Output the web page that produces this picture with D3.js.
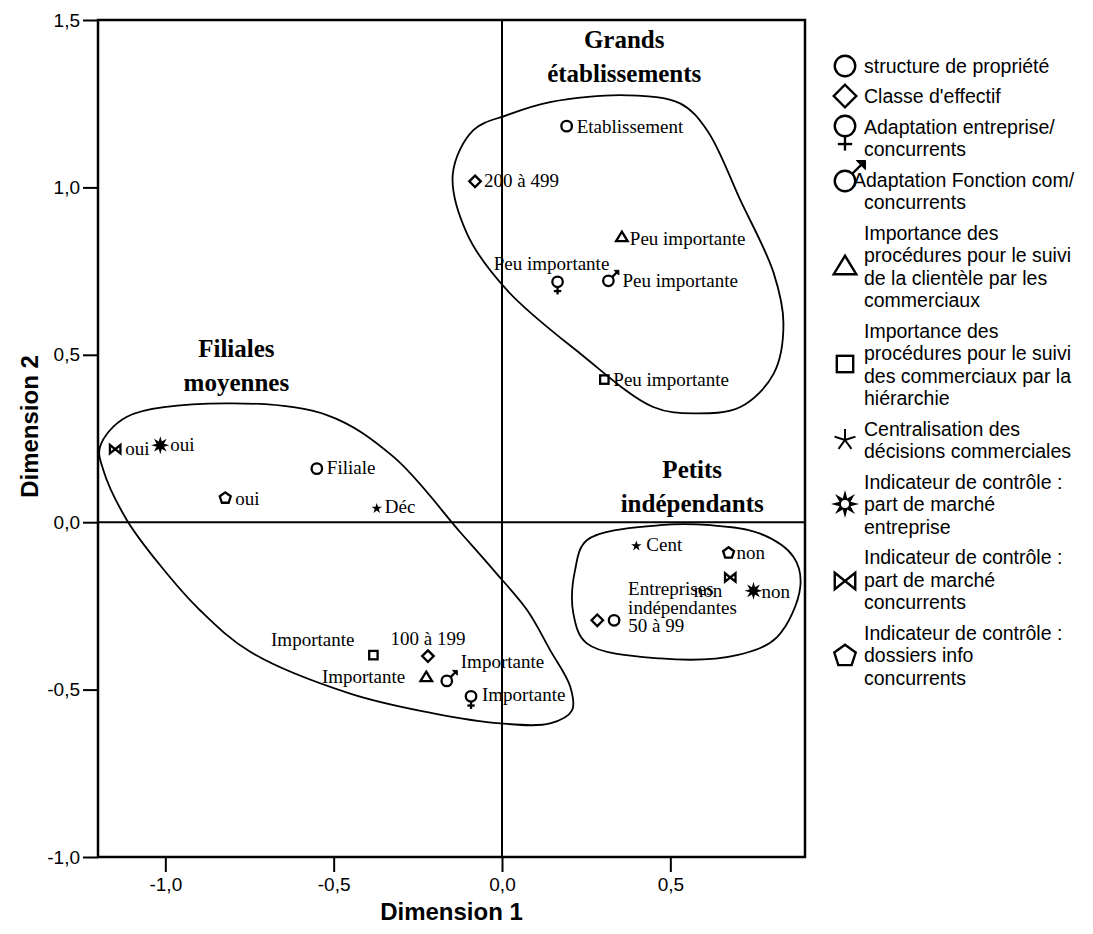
<!DOCTYPE html>
<html><head><meta charset="utf-8">
<script src="https://cdn.jsdelivr.net/npm/d3@7"></script>
<style>body{margin:0;background:#fff}svg{display:block}</style>
</head><body><svg id="c" width="1093" height="934"></svg>
<script>
// ---------- DATA ----------
const xTicks = [-1.0, -0.5, 0.0, 0.5];
const yTicks = [-1.0, -0.5, 0.0, 0.5, 1.0, 1.5];
const axisTitles = ["Dimension 1", "Dimension 2"];

const legendTypes = ["circle","diamond","female","male","triangle","square","asterisk","burst","bowtie","pentagon"];
const legendLabels = [
  ["structure de propriété"],
  ["Classe d'effectif"],
  ["Adaptation entreprise/","concurrents"],
  ["Adaptation Fonction com/","concurrents"],
  ["Importance des","procédures pour le suivi","de la clientèle par les","commerciaux"],
  ["Importance des","procédures pour le suivi","des commerciaux par la","hiérarchie"],
  ["Centralisation des","décisions commerciales"],
  ["Indicateur de contrôle :","part de marché","entreprise"],
  ["Indicateur de contrôle :","part de marché","concurrents"],
  ["Indicateur de contrôle :","dossiers info","concurrents"]
];

const pointTypes  = ["circle","circle","circle","diamond","diamond","diamond","female","female","male","male","triangle","triangle","square","square","star","star","burst","burst","bowtie","bowtie","pentagon","pentagon"];
const pointX      = [0.192,-0.550,0.333,-0.080,-0.220,0.283,0.165,-0.092,0.316,-0.164,0.356,-0.225,0.304,-0.382,-0.372,0.399,-1.015,0.747,-1.149,0.678,-0.822,0.673];
const pointY      = [1.183,0.160,-0.293,1.018,-0.400,-0.293,0.718,-0.520,0.721,-0.474,0.852,-0.462,0.426,-0.397,0.041,-0.071,0.230,-0.205,0.218,-0.165,0.072,-0.092];
const pointLabels = ["Etablissement","Filiale","Entreprises\nindépendantes","200 à 499","100 à 199","50 à 99","Peu importante","Importante","Peu importante","Importante","Peu importante","Importante","Peu importante","Importante","Déc","Cent","oui","non","oui","non","oui","non"];

const groupTitles = [["Grands","établissements"],["Filiales","moyennes"],["Petits","indépendants"]];

// cluster outlines (data coordinates)
const hullGrands = [[-0.146,1.041],[-0.085,1.171],[0.015,1.216],[0.143,1.255],[0.371,1.275],[0.529,1.251],[0.609,1.171],[0.708,0.962],[0.807,0.744],[0.836,0.593],[0.807,0.444],[0.708,0.344],[0.569,0.325],[0.449,0.344],[0.232,0.504],[0.015,0.693],[-0.104,0.862]];
const hullFiliales = [[-1.194,0.225],[-1.114,0.315],[-0.817,0.355],[-0.520,0.320],[-0.322,0.195],[-0.124,-0.030],[-0.020,-0.149],[0.075,-0.263],[0.143,-0.382],[0.203,-0.492],[0.208,-0.562],[0.143,-0.601],[-0.005,-0.601],[-0.204,-0.571],[-0.451,-0.512],[-0.748,-0.387],[-0.897,-0.263],[-1.016,-0.128],[-1.114,0.006],[-1.184,0.155]];
const hullPetits = [[0.470,-0.009],[0.619,-0.009],[0.767,-0.034],[0.866,-0.104],[0.886,-0.193],[0.817,-0.343],[0.698,-0.397],[0.470,-0.407],[0.252,-0.362],[0.212,-0.273],[0.217,-0.143],[0.252,-0.054]];

// ---------- LAYOUT (positions / offsets, not data) ----------
const labelOffsets = [ // dx, dy (px), anchor
  [10,7,"start"],[10,5,"start"],[14,-25,"start"],[9,6,"start"],[0,-11,"middle"],[31,12,"start"],
  [-6,-12,"middle"],[11,5,"start"],[14,6,"start"],[14,-13,"start"],[8,8,"start"],[-21,6,"end"],
  [9,6,"start"],[-19,-9,"end"],[8,5,"start"],[10,5,"start"],[10,6,"start"],[8,7,"start"],
  [10,6,"start"],[-8,20,"end"],[10,7,"start"],[8,6,"start"]
];
const titleAnchors = [[0.363,1.416],[-0.789,0.493],[0.565,0.131]];
const legendSymbolY = [66,96,126,181,266,364,440,504,581,656];
const legendFirstLineY = [66,96.5,127,180,233,331,429,482,557.5,633];

// ---------- CHART ----------
const svg = d3.select("#c");
const L = 98, R = 805, T = 20, B = 857;
const x = d3.scaleLinear().domain([-1.2, 0.9]).range([L, R]);
const y = d3.scaleLinear().domain([-1.0, 1.5]).range([B, T]);
const fmt = d => d.toFixed(1).replace(".", ",").replace("-0,0","0,0");
const sans = "'Liberation Sans', Arial, Helvetica, sans-serif";
const serif = "'Liberation Serif', 'Times New Roman', serif";

// zero lines
svg.append("line").attr("x1", x(0)).attr("x2", x(0)).attr("y1", T).attr("y2", B).attr("stroke","#000").attr("stroke-width",2);
svg.append("line").attr("x1", L).attr("x2", R).attr("y1", y(0)).attr("y2", y(0)).attr("stroke","#000").attr("stroke-width",2);

// axes
const ya = svg.append("g").attr("transform",`translate(${L},0)`)
  .call(d3.axisLeft(y).tickValues(yTicks).tickSize(15).tickPadding(3).tickFormat(fmt));
const xa = svg.append("g").attr("transform",`translate(0,${B})`)
  .call(d3.axisBottom(x).tickValues(xTicks).tickSize(15).tickPadding(6).tickFormat(fmt));
[ya, xa].forEach(a => {
  a.select(".domain").remove();
  a.selectAll(".tick line").attr("stroke","#000").attr("stroke-width",2);
  a.selectAll(".tick text").attr("fill","#000").style("font-family", sans).style("font-size","19px");
});

// frame
svg.append("rect").attr("x",L).attr("y",T).attr("width",R-L).attr("height",B-T)
  .attr("fill","none").attr("stroke","#000").attr("stroke-width",2.5);

// axis titles
svg.append("text").attr("x",(L+R)/2).attr("y",920).attr("text-anchor","middle")
  .style("font-family",sans).style("font-weight","bold").style("font-size","24px").text(axisTitles[0]);
svg.append("text").attr("transform",`translate(38,${(T+B)/2 - 12}) rotate(-90)`).attr("text-anchor","middle")
  .style("font-family",sans).style("font-weight","bold").style("font-size","24px").text(axisTitles[1]);

// hulls
const hullLine = d3.line().x(d => x(d[0])).y(d => y(d[1])).curve(d3.curveCatmullRomClosed.alpha(0.5));
[hullGrands, hullFiliales, hullPetits].forEach(h => {
  svg.append("path").attr("d", hullLine(h)).attr("fill","none").attr("stroke","#000").attr("stroke-width",1.8);
});

// group titles
groupTitles.forEach((t,i) => {
  const tx = x(titleAnchors[i][0]), ty = y(titleAnchors[i][1]);
  const te = svg.append("text").attr("text-anchor","middle")
    .style("font-family",serif).style("font-weight","bold").style("font-size","25px");
  t.forEach((line,j) => te.append("tspan").attr("x",tx).attr("y",ty + j*34).text(line));
});

// symbols
function drawSymbol(g, type, s, legend) {
  const sw = legend ? 2.4 : 2.3;
  const st = {fill:"none", stroke:"#000", "stroke-width":sw};
  const app = (tag, attrs) => { const e = g.append(tag); Object.entries(attrs).forEach(([k,v]) => e.attr(k,v)); return e; };
  const poly = pts => "M" + pts.map(p => p.join(",")).join("L") + "Z";
  switch(type) {
    case "circle": app("circle",{r:5*s, ...st}); break;
    case "diamond": app("path",{d:poly([[0,-5.5*s],[5.5*s,0],[0,5.5*s],[-5.5*s,0]]), ...st}); break;
    case "square": app("rect",{x:-4*s,y:-4*s,width:8*s,height:8*s, ...st}); break;
    case "triangle": app("path",{d:poly([[0,-5*s],[5.5*s,4*s],[-5.5*s,4*s]]), ...st}); break;
    case "pentagon": {
      const pts = d3.range(5).map(k => { const a = (-90 + 72*k)*Math.PI/180; return [5.5*s*Math.cos(a), 5.5*s*Math.sin(a)]; });
      app("path",{d:poly(pts), ...st}); break; }
    case "female":
      app("circle",{r:5*s, ...st});
      app("line",{x1:0,y1:5*s,x2:0,y2:12*s, ...st});
      app("line",{x1:-3.5*s,y1:8.8*s,x2:3.5*s,y2:8.8*s, ...st});
      break;
    case "male": {
      app("circle",{r:5*s, ...st});
      const c = 5*s*Math.SQRT1_2, tip = 10*s;
      app("line",{x1:c,y1:-c,x2:tip-1.5*s,y2:-tip+1.5*s, ...st});
      app("path",{d:poly([[tip,-tip],[tip-4.5*s,-tip],[tip,-tip+4.5*s]]), fill:"#000", stroke:"#000", "stroke-width":1});
      break; }
    case "star":
      app("path",{d:d3.symbol(d3.symbolStar, 34)(), fill:"#000"});
      break;
    case "asterisk":
      d3.range(5).forEach(k => { const a = (-90 + 72*k)*Math.PI/180;
        app("line",{x1:0,y1:0,x2:11*Math.cos(a),y2:11*Math.sin(a),stroke:"#000","stroke-width":2}); });
      break;
    case "burst": {
      const ro = legend ? 14 : 9, ri = legend ? 6 : 4;
      const pts = d3.range(16).map(k => { const a = (-90 + 22.5*k)*Math.PI/180; const r = k%2 ? ri : ro; return [r*Math.cos(a), r*Math.sin(a)]; });
      app("path",{d:poly(pts), fill:"#000"});
      if (legend) app("circle",{r:4, fill:"#fff"});
      break; }
    case "bowtie":
      app("path",{d:poly([[-5*s,-4*s],[5*s,4*s],[5*s,-4*s],[-5*s,4*s]]), fill:"none", stroke:"#000", "stroke-width":sw, "stroke-linejoin":"miter"});
      break;
  }
}

// points
pointTypes.forEach((t,i) => {
  const px = x(pointX[i]), py = y(pointY[i]);
  const g = svg.append("g").attr("transform",`translate(${px},${py})`);
  drawSymbol(g, t, 1.05, false);
  const [dx, dy, anchor] = labelOffsets[i];
  const te = svg.append("text").attr("text-anchor",anchor)
    .style("font-family",serif).style("font-size","19px").attr("fill","#000");
  pointLabels[i].split("\n").forEach((line,j) =>
    te.append("tspan").attr("x",px+dx).attr("y",py+dy+j*18.5).text(line));
});

// legend
const LH = 22.5;
legendTypes.forEach((t,i) => {
  const g = svg.append("g").attr("transform",`translate(845,${legendSymbolY[i]})`);
  drawSymbol(g, t, 2.05, true);
  const te = svg.append("text").style("font-family",sans).style("font-size","19.5px").attr("fill","#000");
  legendLabels[i].forEach((line,j) =>
    te.append("tspan").attr("x", (i===3 && j===0) ? 853 : 864).attr("y", legendFirstLineY[i] + j*LH).attr("dy","0.35em").text(line));
});
</script></body></html>
